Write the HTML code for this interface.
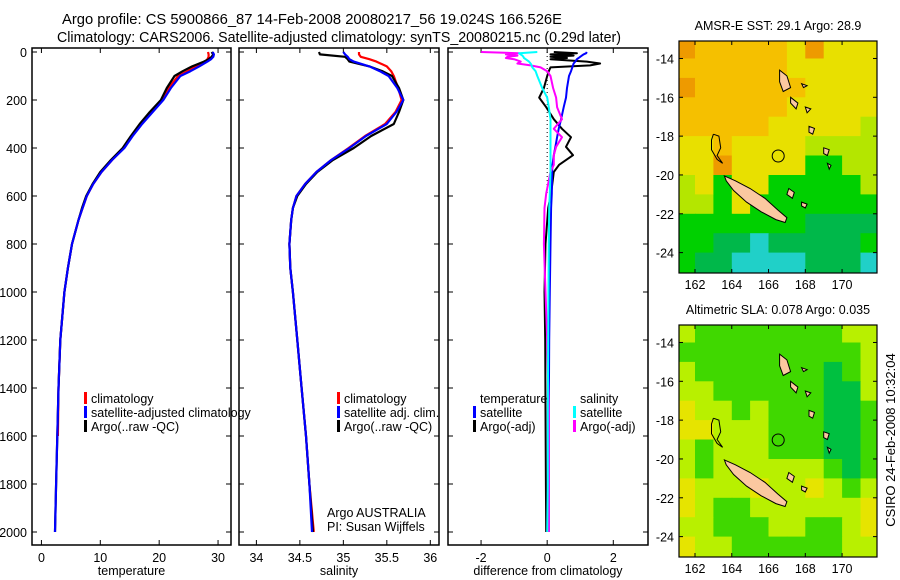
<!DOCTYPE html>
<html><head><meta charset="utf-8"><style>
body{margin:0;background:#fff;}
svg{display:block;font-family:"Liberation Sans",sans-serif;}
</style></head><body>
<svg id="fig" width="900" height="580" viewBox="0 0 900 580">
<text x="62" y="24" font-size="14.5" textLength="500" lengthAdjust="spacingAndGlyphs">Argo profile: CS 5900866_87 14-Feb-2008 20080217_56 19.024S 166.526E</text>
<text x="57" y="42" font-size="14.5" textLength="564" lengthAdjust="spacingAndGlyphs">Climatology: CARS2006. Satellite-adjusted climatology: synTS_20080215.nc (0.29d later)</text>
<g id="plots"></g>
<text x="895" y="440" font-size="13" text-anchor="middle" transform="rotate(-90 895 440)">CSIRO 24-Feb-2008 10:32:04</text>
</svg>
<script>
// ---- profile data (depth in m) ----
const depths = [0,10,20,30,40,60,80,100,150,200,250,300,350,400,450,500,550,600,650,700,800,900,1000,1200,1400,1600,1800,2000];
const argoT = [28.9,29.2,28.9,28.4,27.6,25.6,24.0,22.6,21.3,20.3,18.4,16.7,15.2,13.8,11.8,10.0,8.7,7.6,6.9,6.3,5.2,4.5,3.9,3.2,2.9,2.7,2.5,2.3];
const climT = [28.3,28.4,28.4,28.2,27.8,26.2,24.8,23.2,21.6,20.4,18.6,16.9,15.4,14.0,12.0,10.2,8.8,7.7,7.0,6.3,5.2,4.5,3.9,3.2,2.9,2.8,2.6,2.4];
const satT = [29.1,29.3,29.2,28.8,28.2,26.8,25.3,23.6,22.0,20.7,18.9,17.1,15.5,14.1,12.0,10.2,8.8,7.7,7.0,6.3,5.2,4.5,3.9,3.2,2.9,2.7,2.5,2.3];
const argoS = [34.72,34.73,35.02,35.05,35.07,35.30,35.45,35.56,35.64,35.69,35.64,35.58,35.32,35.12,34.88,34.70,34.57,34.47,34.42,34.40,34.38,34.39,34.42,34.47,34.52,34.57,34.61,34.65];
const climS = [35.18,35.18,35.20,35.30,35.38,35.50,35.55,35.58,35.63,35.67,35.60,35.48,35.25,35.06,34.86,34.69,34.56,34.46,34.42,34.40,34.38,34.39,34.42,34.47,34.52,34.57,34.61,34.66];
const satS = [35.00,35.02,35.05,35.07,35.12,35.30,35.42,35.52,35.62,35.69,35.61,35.50,35.26,35.07,34.86,34.69,34.56,34.46,34.42,34.40,34.38,34.39,34.42,34.47,34.52,34.57,34.61,34.64];
// difference panel
const diffDepths = [0,5,10,15,20,25,30,40,48,56,64,80,100,150,190,230,280,320,355,395,430,470,500,590,650,800,1000,1200,1500,1800,2000];
const satTdiff = [1.2,1.18,1.1,1.05,1.0,0.95,0.9,0.85,0.8,0.78,0.76,0.72,0.66,0.6,0.57,0.5,0.42,0.35,0.3,0.25,0.2,0.16,0.15,0.14,0.12,0.1,0.08,0.06,0.05,0.05,0.05];
const argoTdiff = [0.2,0.9,0.1,0.8,0.1,0.6,0.1,1.2,1.6,1.3,0.1,0.05,0.0,-0.1,-0.24,-0.03,0.2,0.45,0.72,0.57,0.78,0.36,0.2,0.12,0.03,-0.05,-0.08,-0.06,-0.05,-0.04,-0.03];
const satSdiff = [-0.3,-0.85,-0.8,-0.75,-0.72,-0.7,-0.65,-0.55,-0.5,-0.47,-0.45,-0.35,-0.3,-0.15,0.0,0.05,0.1,0.1,0.1,0.1,0.1,0.1,0.1,0.08,0.06,0.05,0.04,0.03,0.02,0.02,0.0];
const argoSdiff = [-2.0,-0.85,-1.25,-0.9,-1.2,-1.25,-1.0,-0.8,-0.9,-0.5,-0.2,0.0,0.1,0.18,0.27,0.3,0.45,0.2,0.45,0.27,0.2,0.2,0.1,-0.03,-0.08,-0.1,-0.05,0.0,0.05,0.05,0.05];
const depthTicks = [0,200,400,600,800,1000,1200,1400,1600,1800,2000];
const tempTicks = [0,10,20,30];
const salTicks = [34,34.5,35,35.5,36];
const diffTicks = [-2,0,2];
const diffTickLabels = ['-2','0','2'];

const NS = 'http://www.w3.org/2000/svg';
const root = document.getElementById('plots');
function el(tag, attrs, parent){const e=document.createElementNS(NS,tag);for(const k in attrs)e.setAttribute(k,attrs[k]);(parent||root).appendChild(e);return e;}
function txt(s, attrs, parent){const e=el('text',attrs,parent);e.textContent=s;return e;}

const yTop=52, yPx=0.24, yBot=545;
function yDepth(d){return yTop+d*yPx;}

function panel(name, x0, x1, vmin, vmax, ticks, tickLabels, xlabel, showDepthLabels){
  const g=el('g',{});
  
  
  const sx=v=>x0+(v-vmin)/(vmax-vmin)*(x1-x0);
  const top=48;
  const frame=el('rect',{x:x0,y:top,width:x1-x0,height:yBot-top,fill:'none',stroke:'#000','stroke-width':1.5},g);
  
  
  depthTicks.forEach(d=>{
    const y=yDepth(d);
    el('line',{x1:x0,x2:x0+5,y1:y,y2:y,stroke:'#000'},g);
    el('line',{x1:x1-5,x2:x1,y1:y,y2:y,stroke:'#000'},g);
    if(showDepthLabels){
      const t=txt(String(d),{x:x0-5,y:y+5,'font-size':12.5,'text-anchor':'end'},g);
      
      
    }
  });
  ticks.forEach((v,i)=>{
    const x=sx(v);
    el('line',{x1:x,x2:x,y1:top,y2:top+5,stroke:'#000'},g);
    el('line',{x1:x,x2:x,y1:yBot-5,y2:yBot,stroke:'#000'},g);
    const t=txt(tickLabels[i],{x:x,y:yBot+17,'font-size':12.5,'text-anchor':'middle'},g);
    
    
  });
  const xl=txt(xlabel,{x:(x0+x1)/2,y:yBot+30,'font-size':12.5,'text-anchor':'middle'},g);
  
  
  return {g,sx};
}
function series(p, ds, vals, color, name, w){
  const pts=ds.map((d,i)=>p.sx(vals[i]).toFixed(1)+','+yDepth(d).toFixed(1)).join(' ');
  const l=el('polyline',{points:pts,fill:'none',stroke:color,'stroke-width':w||2.2,'stroke-linejoin':'round'},p.g);
  
  
}
function legend(g, x, y, items){
  items.forEach((it,i)=>{
    const yy=y+i*14;
    if(it[1]) el('rect',{x:x,y:yy-6,width:3,height:12,fill:it[1]},g);
    const t=txt(it[0],{x:x+7,y:yy+5,'font-size':12.5},g);
    
    
  });
}

// Panel 1 temperature
const p1=panel('temperature-panel',32,231,-1.6,32.2,tempTicks,tempTicks.map(String),'temperature',true);
series(p1,depths.slice(0,26),climT.slice(0,26),'#f00','climatology-temp-line');
series(p1,depths,argoT,'#000','argo-temp-line');
series(p1,depths,satT,'#00f','satellite-temp-line');
legend(p1.g,84,398,[['climatology','#f00'],['satellite-adjusted climatology','#00f'],['Argo(..raw -QC)','#000']]);
// Panel 2 salinity
const p2=panel('salinity-panel',239,439,33.8,36.1,salTicks,['34','34.5','35','35.5','36'],'salinity',false);
series(p2,depths,climS,'#f00','climatology-sal-line');
series(p2,depths,argoS,'#000','argo-sal-line');
series(p2,depths,satS,'#00f','satellite-sal-line');
legend(p2.g,337,398,[['climatology','#f00'],['satellite adj. clim.','#00f'],['Argo(..raw -QC)','#000']]);
const a1=txt('Argo AUSTRALIA',{x:327,y:517,'font-size':12.5},p2.g);


const a2=txt('PI: Susan Wijffels',{x:327,y:531,'font-size':12.5},p2.g);


// Panel 3 differences
const p3=panel('difference-panel',448,648,-3.0,3.05,diffTicks,diffTickLabels,'difference from climatology',false);
el('line',{x1:p3.sx(0),x2:p3.sx(0),y1:yDepth(0),y2:yDepth(600),stroke:'#000','stroke-dasharray':'1,3'},p3.g);
series(p3,diffDepths,argoTdiff,'#000','argo-temp-diff-line',2);
series(p3,diffDepths,satTdiff,'#00f','satellite-temp-diff-line',2);
series(p3,diffDepths,argoSdiff,'#f0f','argo-sal-diff-line',2);
series(p3,diffDepths,satSdiff,'#0ff','satellite-sal-diff-line',2);
legend(p3.g,473,398,[['temperature',null],['satellite','#00f'],['Argo(-adj)','#000']]);
legend(p3.g,573,398,[['salinity',null],['satellite','#0ff'],['Argo(-adj)','#f0f']]);

// ---- maps ----
const colorsSST={O:'#f5c000',R:'#ee9a00',Y:'#e8e000',L:'#b4e600',G:'#00d000',D:'#00b84a',C:'#20d0c8'};
const sstGrid=[
'ROOOOOYRYYY',
'OOOOOOYYYYY',
'ROOOOOOYYYY',
'OOOOOOYYYYY',
'OOOOOYYYYYL',
'YYOYYYYLLLL',
'YYRYYYYGGLL',
'LYGYYGGGGGL',
'LLGYGGGGGGG',
'GGGGGGGDDDD',
'GGDDCDDDDDG',
'GDDCCCCDDDC'];
const colorsSLA={Y:'#e6e400',L:'#b8f000',G:'#40d800',D:'#00c040'};
const slaGrid=[
'LGGGGGGGGLL',
'GGGGGGGGGGL',
'LGGGGGGGDGL',
'LLGGGGGGDDL',
'YLLGLGGGDDG',
'YYLLLGGGDDG',
'LGLLLGGGDDG',
'LGLLLLLLGDG',
'YLLLYLLYLGL',
'YLGGLLLLLLY',
'LLGGGLLGGLY',
'YLLGGGGGGLL'];
const lonTicks=[162,164,166,168,170];
const latTicks=[-14,-16,-18,-20,-22,-24];
const newCal=[[163.6,-20.05],[164.2,-20.3],[165.0,-20.7],[165.8,-21.2],[166.5,-21.8],[167.0,-22.2],[166.9,-22.45],[166.4,-22.3],[165.6,-21.9],[164.8,-21.4],[164.1,-20.8],[163.7,-20.3]];
const islands=[
[[166.6,-14.6],[167.0,-14.9],[167.2,-15.5],[166.8,-15.7],[166.6,-15.2]],
[[167.2,-16.0],[167.6,-16.3],[167.5,-16.6],[167.2,-16.3]],
[[168.2,-17.5],[168.5,-17.6],[168.4,-17.9],[168.2,-17.8]],
[[169.0,-18.6],[169.3,-18.7],[169.2,-19.0],[169.0,-18.9]],
[[169.2,-19.4],[169.4,-19.5],[169.3,-19.7]],
[[167.1,-20.7],[167.4,-20.9],[167.3,-21.2],[167.0,-21.0]],
[[167.8,-21.4],[168.1,-21.5],[168.0,-21.7],[167.8,-21.6]],
[[167.8,-15.3],[168.1,-15.4],[167.9,-15.5]],
[[168.0,-16.5],[168.3,-16.6],[168.1,-16.8]]];
const reef=[[163.0,-17.9],[163.3,-18.0],[163.4,-18.6],[163.2,-19.0],[163.5,-19.4],[163.2,-19.2],[162.9,-18.7],[162.9,-18.2],[163.0,-17.9]];

function drawMap(name, y0, grid, cmap, title){
  const g=el('g',{});
  
  
  const x0=679,x1=877,h=232;
  const lon0=161.13,lon1=171.9,lat0=-13.1,lat1=-25.05;
  const px=lo=>x0+(lo-lon0)/(lon1-lon0)*(x1-x0);
  const py=la=>y0+(la-lat0)/(lat1-lat0)*h;
  const clip='clip-'+name;
  const cp=el('clipPath',{id:clip},g);
  el('rect',{x:x0,y:y0,width:x1-x0,height:h},cp);
  const cg=el('g',{'clip-path':'url(#'+clip+')'},g);
  grid.forEach((row,r)=>{
    [...row].forEach((c,k)=>{
      const lo=161+k, la=-13-r;
      el('rect',{x:px(lo).toFixed(1),y:py(la).toFixed(1),width:(px(lo+1)-px(lo)+0.5).toFixed(1),height:(py(la-1)-py(la)+0.5).toFixed(1),fill:cmap[c]},cg);
    });
  });
  const poly=pts=>pts.map(p=>px(p[0]).toFixed(1)+','+py(p[1]).toFixed(1)).join(' ');
  const nc=el('polygon',{points:poly(newCal),fill:'#fbc8a0',stroke:'#000','stroke-width':1},cg);
  
  
  islands.forEach(isl=>el('polygon',{points:poly(isl),fill:'#fbc8a0',stroke:'#000','stroke-width':1},cg));
  el('polyline',{points:poly(reef),fill:'none',stroke:'#000','stroke-width':1},cg);
  const mk=el('circle',{cx:px(166.526),cy:py(-19.024),r:6,fill:'none',stroke:'#000','stroke-width':1},cg);
  
  
  el('rect',{x:x0,y:y0,width:x1-x0,height:h,fill:'none',stroke:'#000','stroke-width':1.2},g);
  lonTicks.forEach(lo=>{
    const x=px(lo);
    el('line',{x1:x,x2:x,y1:y0,y2:y0+4,stroke:'#000'},g);
    el('line',{x1:x,x2:x,y1:y0+h-4,y2:y0+h,stroke:'#000'},g);
    const t=txt(String(lo),{x:x,y:y0+h+16,'font-size':12.5,'text-anchor':'middle'},g);
    
    
  });
  latTicks.forEach(la=>{
    const y=py(la);
    el('line',{x1:x0,x2:x0+4,y1:y,y2:y,stroke:'#000'},g);
    el('line',{x1:x1-4,x2:x1,y1:y,y2:y,stroke:'#000'},g);
    const t=txt(String(la),{x:x0-5,y:y+5,'font-size':12.5,'text-anchor':'end'},g);
    
    
  });
  const tt=txt(title,{x:(x0+x1)/2,y:y0-11,'font-size':12.5,'text-anchor':'middle'},g);
  
  
}
drawMap('sst-map',41,sstGrid,colorsSST,'AMSR-E SST: 29.1 Argo: 28.9');
drawMap('sla-map',325,slaGrid,colorsSLA,'Altimetric SLA: 0.078 Argo: 0.035');
</script>
</body></html>
